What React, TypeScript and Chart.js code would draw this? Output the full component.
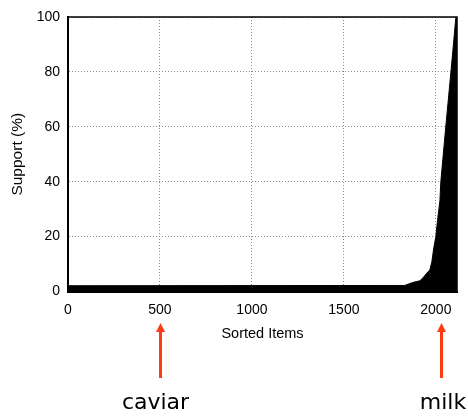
import React, { useEffect, useRef } from "react";
import { Chart, registerables } from "chart.js";

Chart.register(...registerables);

// Sorted item rank (x) and support in percent (y)
const itemRank = [0, 1830, 1875, 1913, 1929, 1951, 1967, 1978, 1989, 2000, 2011, 2022, 2027, 2054, 2082, 2109, 2115];
const supportPct = [2.1, 2.2, 3.3, 3.9, 4.9, 6.7, 7.8, 10.7, 16, 20, 27, 33, 40, 60, 80, 100, 100];

const xTicks = [0, 500, 1000, 1500, 2000];
const yTicks = [0, 20, 40, 60, 80, 100];

const annotationItems = [500, 2030];
const annotationLabels = ["caviar", "milk"];
const annotationLabelShift = [-5, 1.5];

const X_MAX = 2115;
const FONT = "'Liberation Sans', Arial, Helvetica, sans-serif";

export default function App() {
  const ref = useRef<HTMLCanvasElement | null>(null);

  useEffect(() => {
    if (!ref.current) return;

    const framePlugin = {
      id: "frame",
      afterDraw(chart: any) {
        const { ctx, chartArea } = chart;
        const { left, top, right, bottom } = chartArea;
        ctx.save();
        ctx.strokeStyle = "#000";
        ctx.lineWidth = 1.5;
        ctx.strokeRect(left, top, right - left, bottom - top);
        ctx.restore();

        // annotations below the axis
        const xs = chart.scales.x;
        ctx.save();
        annotationItems.forEach((v, i) => {
          const px = Math.round(xs.getPixelForValue(v)) + 0.5;
          const tipY = 323;
          const baseY = 378;
          ctx.strokeStyle = "#ff3b14";
          ctx.fillStyle = "#ff3b14";
          ctx.lineWidth = 3;
          ctx.beginPath();
          ctx.moveTo(px, baseY);
          ctx.lineTo(px, tipY + 7);
          ctx.stroke();
          ctx.beginPath();
          ctx.moveTo(px, tipY);
          ctx.lineTo(px - 4.5, tipY + 9);
          ctx.lineTo(px + 4.5, tipY + 9);
          ctx.closePath();
          ctx.fill();

          ctx.fillStyle = "#000";
          ctx.font = "22px 'DejaVu Sans', sans-serif";
          ctx.textAlign = "center";
          ctx.textBaseline = "alphabetic";
          ctx.fillText(annotationLabels[i], px + annotationLabelShift[i], 408.5);
        });
        ctx.restore();
      },
    };

    const chart = new Chart(ref.current, {
      type: "line",
      data: {
        datasets: [
          {
            data: itemRank.map((x, i) => ({ x, y: supportPct[i] })),
            borderColor: "#000",
            borderWidth: 1,
            backgroundColor: "#000",
            fill: "origin",
            pointRadius: 0,
            tension: 0,
          },
        ],
      },
      options: {
        animation: false,
        responsive: true,
        maintainAspectRatio: false,
        layout: { padding: { top: 17, right: 11, bottom: 72, left: 0 } },
        plugins: { legend: { display: false }, tooltip: { enabled: false } },
        scales: {
          x: {
            type: "linear",
            min: 0,
            max: X_MAX,
            afterBuildTicks: (s: any) => {
              s.ticks = xTicks.map((v) => ({ value: v }));
            },
            afterFit: (s: any) => {
              s.height = 52.5;
            },
            ticks: {
              includeBounds: false,
              padding: 10,
              color: "#000",
              font: { family: FONT, size: 14 },
              callback: (v: any) => String(v),
            },
            grid: { color: "#8a8a8a", lineWidth: 1, drawTicks: false, tickLength: 0 },
            border: { display: true, color: "#000", width: 2, dash: [1, 2] },
            title: {
              display: true,
              text: "Sorted Items",
              color: "#000",
              font: { family: FONT, size: 14.5 },
              padding: { top: 6, bottom: 1 },
            },
          },
          y: {
            min: 0,
            max: 100,
            afterBuildTicks: (s: any) => {
              s.ticks = yTicks.map((v) => ({ value: v }));
            },
            afterFit: (s: any) => {
              s.width = 68;
            },
            ticks: {
              padding: 8,
              color: "#000",
              font: { family: FONT, size: 14 },
              callback: (v: any) => String(v),
            },
            grid: { color: "#8a8a8a", lineWidth: 1, drawTicks: false, tickLength: 0 },
            border: { display: true, color: "#000", width: 2, dash: [1, 2] },
            title: {
              display: true,
              text: "Support (%)",
              color: "#000",
              font: { family: FONT, size: 15.5 },
              padding: { top: 8.5, bottom: 9.5 },
            },
          },
        },
      },
      plugins: [framePlugin],
    });

    return () => chart.destroy();
  }, []);

  return (
    <div style={{ position: "absolute", left: 0, top: 0, width: 468, height: 416, background: "#fff" }}>
      <canvas ref={ref} />
    </div>
  );
}
